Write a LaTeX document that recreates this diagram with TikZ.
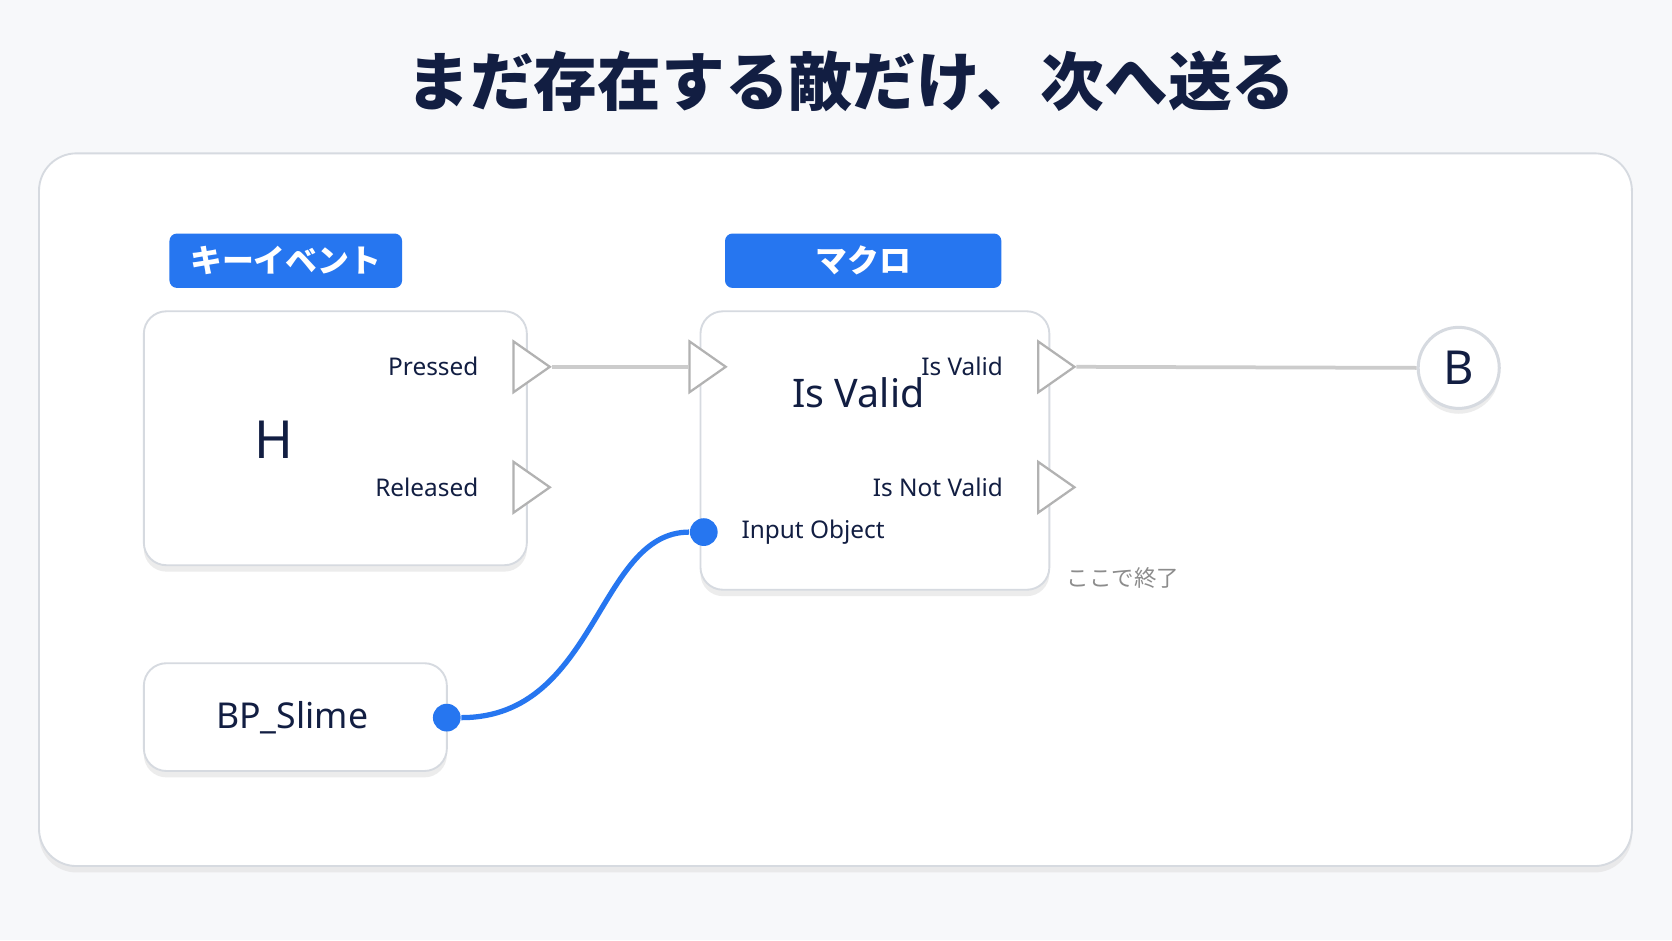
\documentclass[tikz,border=0pt]{standalone}
\usepackage{fontspec}
\setmainfont{Noto Sans}
\newfontfamily\cjk{Noto Sans CJK JP}
\usetikzlibrary{shapes.geometric,shadows}
\definecolor{ink}{RGB}{18,30,66}
\definecolor{bpblue}{RGB}{38,118,240}
\definecolor{edge}{RGB}{214,218,224}
\definecolor{bg}{RGB}{247,248,250}

\tikzset{
  card/.style={draw=edge, fill=white, rounded corners=6pt, line width=0.5pt,
    drop shadow={shadow xshift=0pt, shadow yshift=-0.6mm, fill=black!12, opacity=0.6}},
  tag/.style={fill=bpblue, rounded corners=2pt, text=white, font=\cjk\bfseries\fontsize{8.5}{10}\selectfont},
  pin/.style={isosceles triangle, isosceles triangle apex angle=70, draw=black!30, fill=white,
    minimum height=0.34cm, minimum width=0.34cm, inner sep=0pt, line width=0.6pt},
  pinlbl/.style={anchor=east, text=ink, font=\bfseries\fontsize{6.5}{8}\selectfont},
  dot/.style={circle, fill=bpblue, minimum size=0.26cm, inner sep=0pt},
  wire/.style={draw=black!20, line width=1pt},
}

\begin{document}
\begin{tikzpicture}[x=0.01cm, y=-0.01cm]
  \fill[bg] (0,0) rectangle (1568,882);
  \useasboundingbox (0,0) rectangle (1568,882);

  % titre
  \node (title) at (798,76) {\cjk\bfseries\fontsize{17}{20}\selectfont\color{ink}まだ存在する敵だけ、次へ送る};

  % grand panneau
  \node[card, minimum width=14.93cm, minimum height=6.68cm, rounded corners=10pt] (panel) at (783.5,478) {};

  % noeud clavier
  \node[tag, minimum width=2.18cm, minimum height=0.51cm] (keytag) at (268,244.5) {キーイベント};
  \node[card, minimum width=3.59cm, minimum height=2.38cm] (key) at (314.5,411) {};
  \node[text=ink, font=\bfseries\fontsize{14}{16}\selectfont] (keyname) at (257,412) {H};
  \node[pin] (pressed) at (494,344) {};
  \node[pin] (released) at (494,457) {};
  \node[pinlbl] at (461,344) {Pressed};
  \node[pinlbl] at (461,457) {Released};

  % macro
  \node[tag, minimum width=2.59cm, minimum height=0.51cm] (macrotag) at (809.5,244.5) {マクロ};
  \node[card, minimum width=3.27cm, minimum height=2.61cm] (macro) at (820.5,422.5) {};
  \node[text=ink, font=\bfseries\fontsize{10.5}{12}\selectfont] (macroname) at (805,368) {Is Valid};
  \node[pin] (exec) at (659,344) {};
  \node[pin] (valid) at (986,344) {};
  \node[pin] (notvalid) at (986,457) {};
  \node[pinlbl] at (953,344) {Is Valid};
  \node[pinlbl] at (953,457) {Is Not Valid};
  \node[dot] (inobj) at (660,499) {};
  \node[anchor=west, text=ink, font=\bfseries\fontsize{6.5}{8}\selectfont] at (683,499) {Input Object};
  \node[text=black!45, font=\cjk\fontsize{6}{7}\selectfont] (endnote) at (1053,542) {ここで終了};

  % slime
  \node[card, minimum width=2.84cm, minimum height=1.01cm] (slime) at (277,672.5) {};
  \node[text=ink, font=\bfseries\fontsize{9.5}{11}\selectfont] at (274,673) {BP\_Slime};
  \node[dot] (slimeout) at (419,673) {};

  % B
  \node[circle, draw=edge, fill=white, minimum size=0.76cm, line width=0.8pt,
    drop shadow={shadow xshift=0pt, shadow yshift=-0.5mm, fill=black!12, opacity=0.6},
    text=ink, font=\bfseries\fontsize{12.5}{14}\selectfont] (bnode) at (1368,345) {B};

  % liaisons
  \draw[wire] (pressed.apex) -- (exec.west);
  \draw[wire] (valid.apex) -- (bnode.west);
  \draw[bpblue, line width=1.4pt] (slimeout.east) .. controls (560,673) and (560,499) .. (inobj.west);
\end{tikzpicture}
\end{document}
